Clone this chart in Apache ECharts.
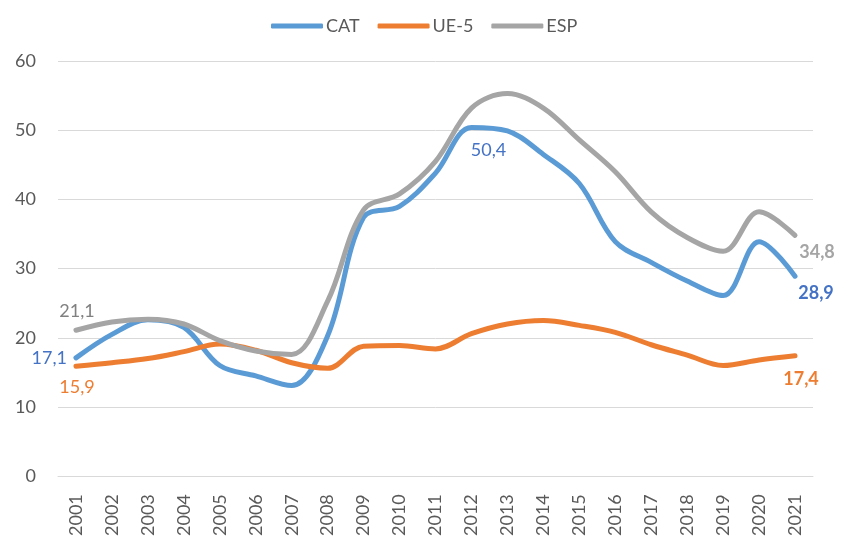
<!DOCTYPE html>
<html>
<head>
<meta charset="utf-8">
<script src="https://cdn.jsdelivr.net/npm/echarts@6/dist/echarts.min.js"></script>
<style>
html,body{margin:0;padding:0;background:#fff;}
#c{width:841px;height:539px;}
</style>
</head>
<body>
<div id="c"></div>
<script>
const years = ['2001','2002','2003','2004','2005','2006','2007','2008','2009','2010','2011','2012','2013','2014','2015','2016','2017','2018','2019','2020','2021'];
const cat = [17.1, 20.5, 22.6, 21.5, 16.0, 14.5, 13.1, 20.3, 37.4, 39.0, 43.8, 50.4, 49.9, 46.5, 42.3, 33.9, 30.9, 28.2, 26.1, 33.9, 28.9];
const ue5 = [15.9, 16.4, 17.0, 18.0, 19.1, 18.2, 16.4, 15.6, 18.8, 18.9, 18.4, 20.6, 22.0, 22.5, 21.8, 20.8, 19.0, 17.5, 16.0, 16.8, 17.4];
const esp = [21.1, 22.3, 22.7, 22.0, 19.6, 18.1, 17.6, 25.3, 38.5, 40.8, 45.5, 53.2, 55.3, 53.2, 48.6, 44.0, 38.2, 34.5, 32.5, 38.2, 34.8];
const yTicks = [0, 10, 20, 30, 40, 50, 60];

const fmt = v => v.toFixed(1).replace('.', ',');
const FONT = 'Lato';

function build(values, labelCfg) {
  return values.map((v, i) => {
    if (labelCfg[i]) {
      return { value: v, label: Object.assign({ show: true, formatter: p => fmt(p.value), fontFamily: FONT, fontSize: 18 }, labelCfg[i]) };
    }
    return v;
  });
}

const last = years.length - 1;
const catLabels = {};
catLabels[0] = { position: 'left', distance: 9, color: '#4472C4' };
catLabels[11] = { position: 'bottom', distance: 14, offset: [17, 0], color: '#4472C4' };
catLabels[last] = { position: 'bottom', distance: 8, offset: [21, 0], color: '#4472C4', fontWeight: 'bold' };

const ueLabels = {};
ueLabels[0] = { position: 'bottom', distance: 12, offset: [1, 0], color: '#ED7D31' };
ueLabels[last] = { position: 'bottom', distance: 14, offset: [6, 0], color: '#ED7D31', fontWeight: 'bold' };

const espLabels = {};
espLabels[0] = { position: 'top', distance: 10, offset: [1, 0], color: '#808080' };
espLabels[last] = { position: 'bottom', distance: 8, offset: [22, 0], color: '#A5A5A5', fontWeight: 'bold' };

function series(name, values, color, labels) {
  return {
    name: name,
    type: 'line',
    smooth: 0.35,
    showSymbol: true,
    symbol: 'circle',
    symbolSize: 0,
    lineStyle: { width: 5, color: color, cap: 'round', join: 'round' },
    itemStyle: { color: color },
    label: { show: false },
    emphasis: { disabled: true },
    data: build(values, labels),
    z: 2
  };
}

const chart = echarts.init(document.getElementById('c'), null, { renderer: 'canvas' });
chart.setOption({
  animation: false,
  backgroundColor: '#ffffff',
  textStyle: { fontFamily: FONT },
  legend: {
    top: 12,
    left: 266,
    icon: 'roundRect',
    itemWidth: 52,
    itemHeight: 5,
    itemGap: 18,
    textStyle: { color: '#595959', fontSize: 18, fontFamily: FONT, padding: [0, 0, 0, -2] },
    data: ['CAT', 'UE-5', 'ESP']
  },
  grid: { left: 58, right: 28, top: 61, bottom: 61, containLabel: false },
  xAxis: {
    type: 'category',
    data: years,
    boundaryGap: true,
    axisLine: { show: true, lineStyle: { color: '#d9d9d9', width: 1 } },
    axisTick: { show: false },
    axisLabel: { rotate: 90, color: '#595959', fontSize: 18, fontFamily: FONT, margin: 18, interval: 0 }
  },
  yAxis: {
    type: 'value',
    min: yTicks[0],
    max: yTicks[yTicks.length - 1],
    interval: 10,
    axisLine: { show: false },
    axisTick: { show: false },
    splitLine: { lineStyle: { color: '#d9d9d9', width: 1 } },
    axisLabel: { color: '#595959', fontSize: 18, fontFamily: FONT, margin: 22 }
  },
  series: [
    series('CAT', cat, '#5B9BD5', catLabels),
    series('UE-5', ue5, '#ED7D31', ueLabels),
    series('ESP', esp, '#A5A5A5', espLabels)
  ]
});
</script>
</body>
</html>
